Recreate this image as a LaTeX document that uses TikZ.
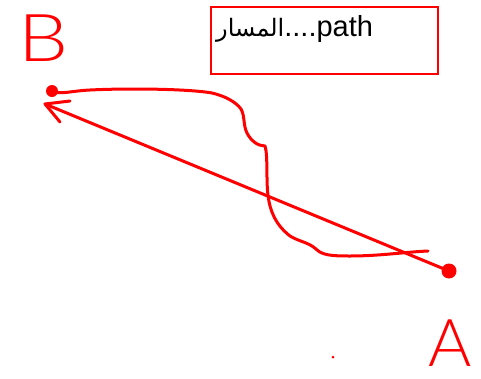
\documentclass[tikz,border=0pt]{standalone}
\usepackage{fontspec}
\setmainfont{Liberation Sans}
\newfontfamily\arabicfont[Script=Arabic]{DejaVu Sans}
\newfontfamily\handfont{Lato Light}
\TeXXeTstate=1
\begin{document}
\begin{tikzpicture}[x=1pt,y=-1pt,
  ink/.style={draw=red, line width=3pt, line cap=round, line join=round},
  dotmark/.style={circle, fill=red, inner sep=0pt},
  letter/.style={text=red, inner sep=0pt, font=\handfont\fontsize{66}{66}\selectfont},
  labelbox/.style={draw=red, line width=2pt, inner sep=0pt}]
\useasboundingbox (0,0) rectangle (481,378);
% label box
\node[labelbox, minimum width=227pt, minimum height=67pt, anchor=north west] (box) at (209.5,5.5) {};
\node[anchor=base west, inner sep=0pt, font=\fontsize{29}{33}\selectfont] (label) at (216,36)
  {{\arabicfont\fontsize{24}{28}\selectfont\beginR المسار\endR}....path};
% letters
\node[letter, anchor=base, xscale=1.2] (Bl) at (44,61) {B};
\node[letter, anchor=base] (Al) at (450,366) {A};
% dots
\node[dotmark, minimum size=12pt] (Bd) at (52,91) {};
\node[dotmark, minimum size=15pt] (Ad) at (449,271) {};
\fill[red] (333,357) circle (1.5pt);
\coordinate (tipB) at (45,104);
\coordinate (endC) at (428,251);
% straight arrow from A to B
\draw[ink] (Ad.center) -- (tipB);
\draw[ink] (70,101) -- (tipB) -- (60,122);
% winding path from B
\draw[ink] (Bd.center) .. controls (60,95) and (70,91) .. (90,90)
  .. controls (130,88) and (190,89) .. (212,93)
  .. controls (225,96) and (236,102) .. (241,109)
  .. controls (245,116) and (243,125) .. (247,133)
  .. controls (251,141) and (258,146) .. (265,146)
  .. controls (268,155) and (266,180) .. (268,195)
  .. controls (270,212) and (276,225) .. (290,236)
  .. controls (300,242) and (308,242) .. (316,249)
  .. controls (322,255) and (330,256) .. (350,256)
  .. controls (380,256) and (405,252) .. (endC);
\end{tikzpicture}
\end{document}
